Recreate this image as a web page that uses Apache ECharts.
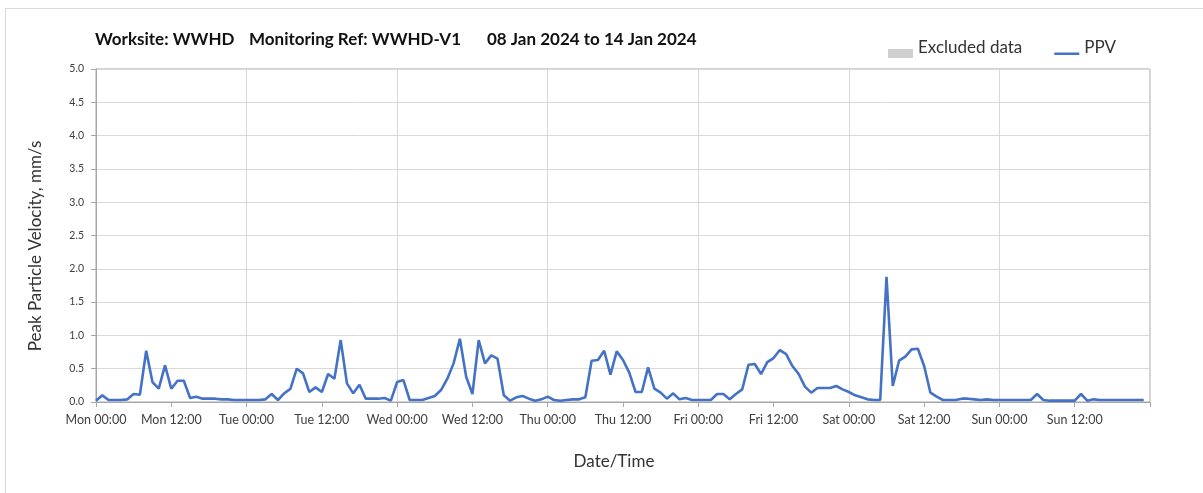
<!DOCTYPE html>
<html>
<head>
<meta charset="utf-8">
<script src="https://cdn.jsdelivr.net/npm/echarts@6/dist/echarts.min.js"></script>
<style>
html,body{margin:0;padding:0;background:#fff;}
#frame{position:absolute;left:5px;top:8px;width:1400px;height:700px;border-left:1px solid #d9d9d9;border-top:1px solid #d9d9d9;}
#chart{position:absolute;left:0;top:0;width:1203px;height:493px;}
</style>
</head>
<body>
<div id="frame"></div>
<div id="chart"></div>
<script>
// Hourly PPV values (mm/s), Mon 00:00 .. Sun 23:00
const dayNames = ['Mon','Tue','Wed','Thu','Fri','Sat','Sun'];
const ppvMon = [0.02,0.10,0.03,0.03,0.03,0.04,0.12,0.11,0.77,0.30,0.20,0.55,0.20,0.32,0.32,0.06,0.08,0.05,0.05,0.05,0.04,0.04,0.03,0.03];
const ppvTue = [0.03,0.03,0.03,0.04,0.12,0.03,0.13,0.20,0.50,0.43,0.15,0.22,0.15,0.42,0.35,0.93,0.28,0.13,0.26,0.05,0.05,0.05,0.06,0.02];
const ppvWed = [0.30,0.33,0.03,0.03,0.03,0.06,0.09,0.18,0.35,0.58,0.95,0.38,0.12,0.93,0.58,0.70,0.65,0.10,0.02,0.07,0.09,0.05,0.02,0.04];
const ppvThu = [0.08,0.03,0.02,0.03,0.04,0.04,0.07,0.62,0.63,0.77,0.41,0.76,0.63,0.44,0.15,0.15,0.52,0.20,0.14,0.05,0.13,0.04,0.06,0.03];
const ppvFri = [0.03,0.03,0.03,0.12,0.12,0.04,0.12,0.19,0.56,0.57,0.42,0.60,0.66,0.78,0.72,0.54,0.42,0.23,0.14,0.21,0.21,0.21,0.24,0.19];
const ppvSat = [0.15,0.10,0.07,0.04,0.03,0.03,1.88,0.24,0.62,0.68,0.79,0.80,0.54,0.14,0.08,0.03,0.03,0.03,0.05,0.05,0.04,0.03,0.04,0.03];
const ppvSun = [0.03,0.03,0.03,0.03,0.03,0.03,0.12,0.03,0.02,0.02,0.02,0.02,0.02,0.12,0.02,0.04,0.03,0.03,0.03,0.03,0.03,0.03,0.03,0.03];
const excludedData = [];
const titleParts = ['Worksite: WWHD','Monitoring Ref: WWHD-V1','08 Jan 2024 to 14 Jan 2024'];

const allPPV = [].concat(ppvMon,ppvTue,ppvWed,ppvThu,ppvFri,ppvSat,ppvSun);
const ppvSeries = allPPV.map((v,i)=>[i,v]);

const FONT = 'Lato, "Open Sans", sans-serif';
const chart = echarts.init(document.getElementById('chart'), null, {renderer:'canvas'});
chart.setOption({
  backgroundColor: 'transparent',
  animation: false,
  textStyle: {fontFamily: FONT},
  graphic: [
    {type:'text', left:95, top:31, style:{text:titleParts[0], font:'bold 17px '+FONT, fill:'#111'}},
    {type:'text', left:249, top:31, style:{text:titleParts[1], font:'bold 17px '+FONT, fill:'#111'}},
    {type:'text', left:487, top:31, style:{text:titleParts[2], font:'bold 17px '+FONT, fill:'#111'}},
    {type:'text', x:36, y:246, rotation:Math.PI/2, style:{text:'Peak Particle Velocity, mm/s', font:'17px '+FONT, fill:'#333', align:'center', verticalAlign:'middle'}},
    {type:'text', x:614, y:462, style:{text:'Date/Time', font:'17px '+FONT, fill:'#333', align:'center', verticalAlign:'middle'}}
  ],
  legend: {
    left: 888, top: 38, padding: 0,
    itemGap: 32, itemWidth: 25, itemHeight: 20,
    textStyle: {fontSize: 17, color:'#333', fontFamily: FONT},
    data: [
      {name:'Excluded data', icon:'path://M0,0 M25,20 M0,11 L25,11 L25,20 L0,20 Z'},
      {name:'PPV', icon:'path://M0,0 M25,20 M0,14.5 L25,14.5 L25,17 L0,17 Z'}
    ]
  },
  grid: {left:96, right:53, top:69, bottom:91, show:true, borderColor:'#a6a6a6', borderWidth:1, containLabel:false},
  xAxis: [{
    type:'value', min:0, max:168, interval:12,
    axisLine:{show:true, lineStyle:{color:'#a6a6a6'}},
    axisTick:{show:true, length:5, lineStyle:{color:'#a6a6a6'}},
    splitLine:{show:false},
    axisLabel:{fontSize:12.5, color:'#404040', margin:11, fontFamily: FONT,
      formatter:function(v){ if(v>=168) return ''; return dayNames[Math.floor(v/24)] + ' ' + (v%24===0?'00:00':'12:00'); }}
  },{
    type:'value', min:0, max:168, interval:24, position:'bottom',
    axisLine:{show:false}, axisTick:{show:false}, axisLabel:{show:false},
    splitLine:{show:true, lineStyle:{color:'#d9d9d9'}}
  }],
  yAxis: {
    type:'value', min:0, max:5, interval:0.5,
    axisLine:{show:true, lineStyle:{color:'#a6a6a6'}},
    axisTick:{show:true, length:5, lineStyle:{color:'#a6a6a6'}},
    splitLine:{show:true, lineStyle:{color:'#d9d9d9'}},
    axisLabel:{fontSize:10.5, color:'#404040', margin:12, fontFamily: FONT, formatter:function(v){return v.toFixed(1);}}
  },
  series: [
    {name:'Excluded data', type:'bar', data:excludedData, itemStyle:{color:'#d0d0d0'}},
    {name:'PPV', type:'line', data:ppvSeries, symbol:'none', lineStyle:{color:'#4472C4', width:2.6}, itemStyle:{color:'#4472C4'}, z:5}
  ]
});
</script>
</body>
</html>
